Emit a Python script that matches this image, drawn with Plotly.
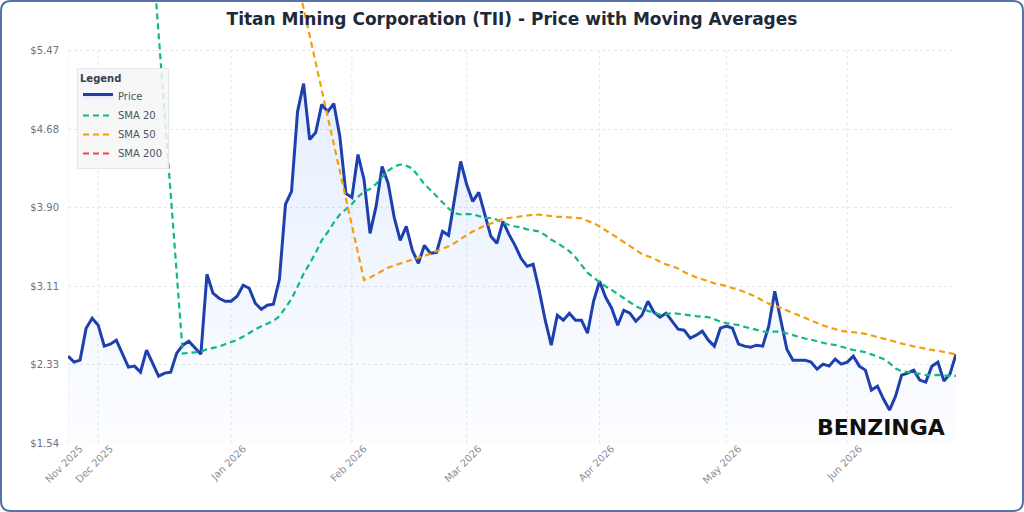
import plotly.graph_objects as go
import pandas as pd

# ---------------- data ----------------
START_DATE = "2025-11-21"
N_DAYS = 148
HOLIDAYS = ["2025-11-27", "2025-12-25", "2026-01-01", "2026-01-19",
            "2026-02-16", "2026-04-03", "2026-05-25", "2026-06-19"]
dates = [d.strftime("%Y-%m-%d") for d in
         pd.bdate_range(start=START_DATE, periods=N_DAYS, freq="C", holidays=HOLIDAYS)]

price = [
    2.41, 2.35, 2.37, 2.69, 2.79, 2.72, 2.51, 2.53, 2.57, 2.44,
    2.30, 2.31, 2.25, 2.47, 2.34, 2.21, 2.24, 2.25, 2.44, 2.52,
    2.56, 2.49, 2.43, 3.23, 3.04, 2.99, 2.96, 2.96, 3.01, 3.12,
    3.09, 2.94, 2.88, 2.92, 2.93, 3.18, 3.93, 4.06, 4.86, 5.14,
    4.58, 4.65, 4.93, 4.86, 4.94, 4.61, 4.04, 4.00, 4.43, 4.18,
    3.64, 3.91, 4.31, 4.14, 3.80, 3.57, 3.71, 3.47, 3.34, 3.52,
    3.44, 3.45, 3.66, 3.62, 3.99, 4.36, 4.13, 3.96, 4.05, 3.84,
    3.61, 3.54, 3.76, 3.63, 3.52, 3.39, 3.31, 3.33, 3.07, 2.77,
    2.52, 2.82, 2.77, 2.84, 2.77, 2.77, 2.64, 2.96, 3.16, 3.00,
    2.89, 2.72, 2.87, 2.84, 2.76, 2.82, 2.96, 2.85, 2.80, 2.84,
    2.76, 2.68, 2.67, 2.59, 2.62, 2.66, 2.57, 2.51, 2.69, 2.71,
    2.69, 2.53, 2.51, 2.50, 2.52, 2.51, 2.71, 3.06, 2.77, 2.48,
    2.37, 2.37, 2.37, 2.35, 2.28, 2.33, 2.31, 2.38, 2.33, 2.35,
    2.41, 2.31, 2.27, 2.07, 2.11, 1.98, 1.87, 2.01, 2.22, 2.24,
    2.27, 2.17, 2.15, 2.31, 2.35, 2.16, 2.23, 2.43,
]

# SMA 20: first (off-chart) value, then gap, then values from day 20 on
sma20_lead = 17.63
sma20_vals = [
    2.436, 2.443, 2.450, 2.453, 2.480, 2.493, 2.506, 2.529, 2.550, 2.572,
    2.606, 2.646, 2.677, 2.709, 2.731, 2.761, 2.809, 2.894, 2.984, 3.105,
    3.236, 3.337, 3.445, 3.570, 3.652, 3.747, 3.828, 3.882, 3.934, 4.005,
    4.058, 4.085, 4.134, 4.205, 4.266, 4.310, 4.329, 4.318, 4.289, 4.213,
    4.132, 4.075, 4.015, 3.951, 3.889, 3.842, 3.829, 3.834, 3.832, 3.813,
    3.796, 3.794, 3.776, 3.748, 3.723, 3.709, 3.700, 3.680, 3.673, 3.659,
    3.622, 3.576, 3.544, 3.500, 3.461, 3.400, 3.320, 3.246, 3.196, 3.151,
    3.109, 3.073, 3.032, 2.988, 2.948, 2.910, 2.882, 2.864, 2.840, 2.827,
    2.830, 2.842, 2.835, 2.830, 2.818, 2.810, 2.805, 2.801, 2.779, 2.755,
    2.741, 2.731, 2.721, 2.703, 2.686, 2.674, 2.659, 2.646, 2.657, 2.655,
    2.637, 2.618, 2.602, 2.587, 2.575, 2.558, 2.542, 2.529, 2.522, 2.504,
    2.486, 2.472, 2.461, 2.449, 2.428, 2.407, 2.381, 2.339, 2.286, 2.259,
    2.247, 2.242, 2.232, 2.221, 2.219, 2.222, 2.214, 2.210, 2.212,
]

# SMA 50: first (off-chart) value, then gap, then values from day 50 on
sma50_lead = 16.51
sma50_vals = [
    3.173, 3.198, 3.229, 3.268, 3.297, 3.317, 3.334, 3.358, 3.377, 3.392,
    3.414, 3.436, 3.459, 3.487, 3.510, 3.543, 3.586, 3.624, 3.658, 3.691,
    3.717, 3.738, 3.759, 3.786, 3.794, 3.803, 3.811, 3.818, 3.826, 3.827,
    3.820, 3.808, 3.806, 3.804, 3.802, 3.799, 3.791, 3.765, 3.743, 3.709,
    3.666, 3.632, 3.594, 3.553, 3.512, 3.469, 3.433, 3.411, 3.388, 3.356,
    3.329, 3.311, 3.287, 3.254, 3.223, 3.199, 3.181, 3.158, 3.139, 3.126,
    3.110, 3.095, 3.076, 3.053, 3.031, 3.002, 2.965, 2.936, 2.918, 2.893,
    2.865, 2.841, 2.817, 2.789, 2.764, 2.739, 2.718, 2.698, 2.679, 2.664,
    2.656, 2.653, 2.643, 2.633, 2.618, 2.605, 2.589, 2.573, 2.554, 2.536,
    2.520, 2.508, 2.497, 2.483, 2.472, 2.464, 2.451, 2.436, 2.428,
]

sma200_vals = []  # not enough history: no visible values

y_tickvals = [1.54, 2.326, 3.112, 3.898, 4.684, 5.47]
y_ticktext = ["$1.54", "$2.33", "$3.11", "$3.90", "$4.68", "$5.47"]

sma20 = [sma20_lead] + [None] * (N_DAYS - len(sma20_vals) - 1) + sma20_vals
sma50 = [sma50_lead] + [None] * (N_DAYS - len(sma50_vals) - 1) + sma50_vals
sma200 = [None] * (N_DAYS - len(sma200_vals)) + sma200_vals

# month ticks: first trading day of each month
month_ticks, month_text = [], []
for d in dates:
    lab = pd.Timestamp(d).strftime("%b %Y")
    if lab not in month_text:
        month_ticks.append(d)
        month_text.append(lab)

# ---------------- layout geometry ----------------
W, H = 1024, 512
ML, MR, MT, MB = 68, 68, 0, 69
PW, PH = W - ML - MR, H - MT - MB
Y_TOP = 5.9775
FONT = "DejaVu Sans"


def px2paper(px, py):
    return (px - ML) / PW, (H - MB - py) / PH


fig = go.Figure()

fig.add_trace(go.Scatter(
    x=dates, y=price, name="Price", mode="lines",
    line=dict(color="#1e40af", width=3),
    fill="tozeroy",
    fillgradient=dict(type="vertical",
                      colorscale=[[0, "rgba(59,130,246,0.015)"], [1, "rgba(59,130,246,0.13)"]],
                      start=1.54, stop=5.2),
))
fig.add_trace(go.Scatter(
    x=dates, y=sma20, name="SMA 20", mode="lines", connectgaps=True,
    line=dict(color="#10b981", width=2.2, dash="6px,4px"),
))
fig.add_trace(go.Scatter(
    x=dates, y=sma50, name="SMA 50", mode="lines", connectgaps=True,
    line=dict(color="#f59e0b", width=2.2, dash="6px,4px"),
))
fig.add_trace(go.Scatter(
    x=dates, y=sma200, name="SMA 200", mode="lines",
    line=dict(color="#ef4444", width=2.2, dash="6px,4px"),
))

shapes = []
for t in month_ticks:
    shapes.append(dict(type="line", xref="x", yref="y", x0=t, x1=t,
                       y0=y_tickvals[0], y1=y_tickvals[-1], layer="below",
                       line=dict(color="#e3e6ea", width=1, dash="dot")))

# rounded outer frame
r = 10
x0p, y0p, x1p, y1p = 1, 1, W - 1, H - 1


def P(px, py):
    a, b = px2paper(px, py)
    return f"{a:.5f},{b:.5f}"


path = (f"M {P(x0p + r, y0p)} L {P(x1p - r, y0p)} Q {P(x1p, y0p)} {P(x1p, y0p + r)} "
        f"L {P(x1p, y1p - r)} Q {P(x1p, y1p)} {P(x1p - r, y1p)} "
        f"L {P(x0p + r, y1p)} Q {P(x0p, y1p)} {P(x0p, y1p - r)} "
        f"L {P(x0p, y0p + r)} Q {P(x0p, y0p)} {P(x0p + r, y0p)} Z")
shapes.append(dict(type="path", xref="paper", yref="paper", path=path,
                   line=dict(color="#5772a8", width=2), layer="above"))

lx, ly = px2paper(77, 68)
bx, by = px2paper(881, 427)

fig.update_layout(
    width=W, height=H,
    margin=dict(l=ML, r=MR, t=MT, b=MB, pad=0),
    paper_bgcolor="white", plot_bgcolor="white",
    font=dict(family=FONT, color="#4b5563"),
    title=dict(text="<b>Titan Mining Corporation (TII) - Price with Moving Averages</b>",
               x=0.5, xref="container", xanchor="center",
               y=1 - 19 / H, yref="container", yanchor="middle",
               font=dict(family=FONT, size=17, color="#1f2937")),
    showlegend=True,
    legend=dict(title=dict(text="<b>Legend</b>", font=dict(family=FONT, size=10, color="#374151")),
                font=dict(family=FONT, size=10, color="#4b5563"),
                bgcolor="rgba(246,246,247,0.85)", bordercolor="#e6e7ea", borderwidth=1,
                x=lx, y=ly, xanchor="left", yanchor="top"),
    xaxis=dict(type="category", range=[0, N_DAYS - 1], showgrid=False, zeroline=False,
               showline=False, ticks="", tickmode="array", tickvals=month_ticks,
               ticktext=month_text, tickangle=-45, ticklabelshift=12, ticklabelstandoff=-3,
               tickfont=dict(family=FONT, size=10, color="#8a8f99")),
    yaxis=dict(range=[1.54, Y_TOP], tickmode="array", tickvals=y_tickvals,
               ticktext=y_ticktext, showgrid=True, gridcolor="#e3e6ea", griddash="dot",
               gridwidth=1, zeroline=False, showline=False, ticks="", ticklabelstandoff=8,
               tickfont=dict(family=FONT, size=10, color="#6b7280")),
    shapes=shapes,
    annotations=[dict(text="<b>BENZINGA</b>", xref="paper", yref="paper", x=bx, y=by,
                      xanchor="center", yanchor="middle", showarrow=False,
                      font=dict(family=FONT, size=22, color="#111111"))],
)

fig.write_html("out.html")
